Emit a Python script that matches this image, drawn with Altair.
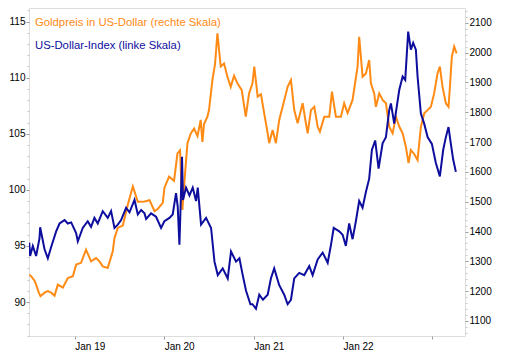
import altair as alt
import pandas as pd

# ---- data (decimal years) ----
usd_t = [2018.490, 2018.500, 2018.530, 2018.567, 2018.605, 2018.612, 2018.661, 2018.698, 2018.735,
         2018.791, 2018.829, 2018.885, 2018.922, 2018.959, 2019.015, 2019.034, 2019.089, 2019.145,
         2019.182, 2019.220, 2019.257, 2019.313, 2019.369, 2019.406, 2019.444, 2019.481, 2019.518,
         2019.574, 2019.612, 2019.668, 2019.705, 2019.742, 2019.780, 2019.798, 2019.853, 2019.909,
         2019.965, 2020.003, 2020.059, 2020.096, 2020.133, 2020.152, 2020.171, 2020.186, 2020.200,
         2020.211, 2020.245, 2020.283, 2020.320, 2020.357, 2020.376, 2020.413, 2020.469, 2020.525,
         2020.563, 2020.600, 2020.655, 2020.711, 2020.748, 2020.804, 2020.842, 2020.879, 2020.916,
         2020.965, 2020.988, 2021.025, 2021.062, 2021.103, 2021.156, 2021.192, 2021.229, 2021.285,
         2021.341, 2021.379, 2021.416, 2021.453, 2021.509, 2021.565, 2021.621, 2021.659, 2021.715,
         2021.771, 2021.827, 2021.864, 2021.894, 2021.956, 2021.994, 2022.031, 2022.068, 2022.106,
         2022.143, 2022.180, 2022.218, 2022.255, 2022.292, 2022.322, 2022.359, 2022.397, 2022.442,
         2022.479, 2022.516, 2022.535, 2022.572, 2022.628, 2022.666, 2022.695, 2022.728, 2022.758,
         2022.784, 2022.814, 2022.833, 2022.870, 2022.907, 2022.945, 2022.993, 2023.038, 2023.083,
         2023.120, 2023.150, 2023.180, 2023.206, 2023.232, 2023.262]
usd_v = [95.3, 94.1, 95.0, 94.1, 95.7, 96.66, 94.7, 93.9, 94.9,
         96.3, 97.0, 97.3, 97.0, 97.1, 96.15, 95.4, 96.6, 97.2,
         96.7, 97.5, 97.0, 98.1, 97.5, 98.1, 96.6, 96.9, 97.3,
         98.4, 98.0, 99.1, 97.8, 98.2, 97.9, 97.4, 97.9, 97.6,
         96.6, 97.2, 97.5, 97.8, 99.7, 98.5, 95.1, 99.0, 102.95,
         99.1, 100.2, 99.5, 100.2, 99.0, 100.2, 96.9, 97.5, 96.6,
         93.6, 92.4, 93.0, 92.1, 94.5, 93.6, 93.9, 92.4, 91.0,
         89.8, 89.8, 89.4, 90.65, 90.2, 90.65, 92.1, 93.0, 91.5,
         90.65, 89.8, 90.2, 92.1, 92.6, 92.4, 93.2, 92.4, 93.8,
         94.4, 93.5, 95.1, 96.6, 96.3, 96.0, 95.0, 97.0, 95.6,
         97.2, 99.0, 98.4, 99.8, 101.0, 103.55, 104.4, 101.9, 104.15,
         104.7, 107.1, 107.7, 105.9, 108.9, 110.1, 109.8, 114.1, 112.5,
         113.1, 112.5, 110.1, 106.8, 105.9, 104.7, 104.1, 102.4, 101.2,
         103.55, 104.7, 105.6, 104.1, 102.7, 101.6]

gold_t = [2018.490, 2018.511, 2018.549, 2018.567, 2018.597, 2018.616, 2018.661, 2018.698, 2018.735,
          2018.773, 2018.810, 2018.866, 2018.922, 2018.978, 2019.015, 2019.070, 2019.126, 2019.182,
          2019.238, 2019.276, 2019.313, 2019.369, 2019.425, 2019.444, 2019.481, 2019.537, 2019.593,
          2019.649, 2019.705, 2019.780, 2019.836, 2019.892, 2019.929, 2019.984, 2020.003, 2020.055,
          2020.111, 2020.149, 2020.178, 2020.204, 2020.234, 2020.261, 2020.298, 2020.335, 2020.373,
          2020.409, 2020.428, 2020.446, 2020.484, 2020.502, 2020.540, 2020.569, 2020.596, 2020.633,
          2020.670, 2020.708, 2020.745, 2020.782, 2020.823, 2020.868, 2020.913, 2020.950, 2020.988,
          2021.006, 2021.044, 2021.081, 2021.117, 2021.156, 2021.173, 2021.211, 2021.248, 2021.285,
          2021.323, 2021.379, 2021.416, 2021.453, 2021.491, 2021.547, 2021.584, 2021.603, 2021.640,
          2021.677, 2021.715, 2021.740, 2021.789, 2021.845, 2021.875, 2021.919, 2021.975, 2022.012,
          2022.050, 2022.106, 2022.162, 2022.180, 2022.218, 2022.255, 2022.292, 2022.311, 2022.348,
          2022.367, 2022.404, 2022.442, 2022.479, 2022.516, 2022.554, 2022.591, 2022.628, 2022.666,
          2022.702, 2022.732, 2022.758, 2022.795, 2022.833, 2022.870, 2022.907, 2022.945, 2022.982,
          2023.019, 2023.057, 2023.083, 2023.113, 2023.150, 2023.180, 2023.198, 2023.217, 2023.243,
          2023.270]
gold_v = [1255, 1250, 1235, 1222, 1195, 1183, 1195, 1200, 1195,
          1185, 1222, 1212, 1244, 1250, 1289, 1295, 1339, 1300,
          1311, 1300, 1283, 1278, 1334, 1378, 1412, 1420, 1490,
          1551, 1500, 1501, 1505, 1468, 1476, 1496, 1546, 1584,
          1570, 1662, 1672, 1472, 1595, 1696, 1729, 1745, 1720,
          1774, 1700, 1760, 1785, 1807, 1908, 1960, 2064, 1953,
          1963, 1919, 1885, 1922, 1895, 1874, 1785, 1863, 1897,
          1953, 1852, 1860, 1796, 1729, 1696, 1740, 1696, 1774,
          1818, 1885, 1908, 1807, 1763, 1830, 1762, 1729, 1807,
          1818, 1751, 1735, 1785, 1785, 1869, 1785, 1785, 1830,
          1797, 1841, 1953, 2053, 1919, 1930, 1975, 1897, 1863,
          1818, 1863, 1841, 1830, 1751, 1729, 1785, 1752, 1729,
          1684, 1629, 1673, 1660, 1640, 1751, 1796, 1807, 1818,
          1863, 1930, 1953, 1885, 1830, 1818, 1897, 1986, 2020,
          1997]

legend_labels = ["Goldpreis in US-Dollar (rechte Skala)", "US-Dollar-Index (linke Skala)"]
left_ticks = [90, 95, 100, 105, 110, 115]
right_ticks = [1100, 1200, 1300, 1400, 1500, 1600, 1700, 1800, 1900, 2000, 2100]
year_ticks = [2019, 2020, 2021, 2022, 2023]

ORANGE = "#FF8A14"
BLUE = "#0E0E9E"
FONT = "Liberation Sans"


def to_date(t):
    y = int(t)
    return pd.Timestamp(year=y, month=1, day=1) + pd.Timedelta(days=(t - y) * 365.25)


usd_df = pd.DataFrame({"date": [to_date(t) for t in usd_t], "value": usd_v})
gold_df = pd.DataFrame({"date": [to_date(t) for t in gold_t], "value": gold_v})

x_enc = alt.X(
    "date:T",
    scale=alt.Scale(domain=[alt.DateTime(year=2018, month=6, date=28),
                            alt.DateTime(year=2023, month=5, date=14)]),
    axis=alt.Axis(values=[alt.DateTime(year=y, month=1, date=1) for y in year_ticks],
                  format="%b %y", labelAlign="left", tickSize=3, labelPadding=2,
                  domain=False, grid=False, title=None, tickColor="#a0a0a0",
                  labelExpr="year(datum.value) >= 2023 ? '' : datum.label"),
)

left_scale = alt.Scale(domain=[86.97, 116.21], nice=False, zero=False)
right_scale = alt.Scale(domain=[1049.7, 2149.3], nice=False, zero=False)

gold_minor = alt.Chart(gold_df).mark_line(opacity=0).encode(
    x=x_enc,
    y=alt.Y("value:Q", scale=right_scale,
            axis=alt.Axis(orient="right", values=list(range(1060, 2150, 20)), labels=False,
                          tickSize=2, domain=False, grid=False, title=None, tickColor="#c8c8c8")),
)
gold_line = alt.Chart(gold_df).mark_line(color=ORANGE, strokeWidth=2, clip=True).encode(
    x=x_enc,
    y=alt.Y("value:Q", scale=right_scale,
            axis=alt.Axis(orient="right", values=right_ticks, format="d", tickSize=3,
                          labelPadding=1, domain=False, grid=False, title=None,
                          tickColor="#a0a0a0")),
)
usd_minor = alt.Chart(usd_df).mark_line(opacity=0).encode(
    x=x_enc,
    y=alt.Y("value:Q", scale=left_scale,
            axis=alt.Axis(orient="left", values=list(range(87, 117)), labels=False,
                          tickSize=2, domain=False, grid=False, title=None, tickColor="#c8c8c8")),
)
usd_line = alt.Chart(usd_df).mark_line(color=BLUE, strokeWidth=2, clip=True).encode(
    x=x_enc,
    y=alt.Y("value:Q", scale=left_scale,
            axis=alt.Axis(orient="left", values=left_ticks, format="d", tickSize=3,
                          labelPadding=1, domain=False, grid=False, title=None,
                          tickColor="#a0a0a0")),
)

txt_gold = alt.Chart(pd.DataFrame({"label": [legend_labels[0]]})).mark_text(
    align="left", baseline="middle", color=ORANGE, font=FONT, fontSize=11.3
).encode(text="label:N", x=alt.value(6), y=alt.value(15))
txt_usd = alt.Chart(pd.DataFrame({"label": [legend_labels[1]]})).mark_text(
    align="left", baseline="middle", color=BLUE, font=FONT, fontSize=11.3
).encode(text="label:N", x=alt.value(6), y=alt.value(38))

chart = (
    alt.layer(gold_minor, gold_line, usd_minor, usd_line, txt_gold, txt_usd)
    .resolve_scale(y="independent")
    .properties(width=436, height=328, padding={"left": 0, "top": 0, "right": 0, "bottom": 0})
    .configure_view(stroke="#b4b4b4", strokeWidth=1)
    .configure_axis(labelFont=FONT, labelFontSize=11.5, labelColor="#000000")
    .configure(background="white")
)

chart.save("out.html", embed_options={"renderer": "svg", "actions": False})
